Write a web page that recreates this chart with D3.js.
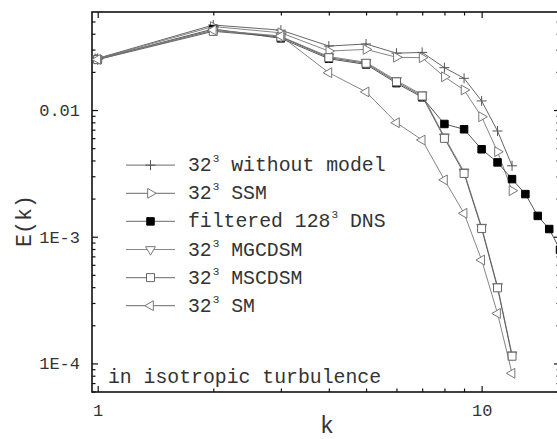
<!DOCTYPE html>
<html>
<head>
<meta charset="utf-8">
<script src="https://cdn.jsdelivr.net/npm/d3@7/dist/d3.min.js"></script>
<style>
  body { margin: 0; background: #fff; }
  text { font-family: "Liberation Mono", "Courier New", monospace; fill: #333; }
</style>
</head>
<body>
<svg id="chart" width="557" height="439"></svg>
<script>
// values
var k32 = [1, 2, 3, 4, 5, 6, 7, 8, 9, 10, 11, 12];
var kDns = [1, 2, 3, 4, 5, 6, 7, 8, 9, 10, 11, 12, 13, 14, 15, 16];

var noModel = [0.0256, 0.0469, 0.0427, 0.0320, 0.0332, 0.0281, 0.0285, 0.0216, 0.0178, 0.0118, 0.00683, 0.00363];
var ssm = [0.0254, 0.0456, 0.0407, 0.0292, 0.0301, 0.0261, 0.0259, 0.0183, 0.0144, 0.00885, 0.00469, 0.00231];
var dns = [0.0252, 0.0436, 0.0368, 0.0254, 0.0229, 0.0163, 0.0126, 0.00776, 0.00705, 0.00490, 0.00386, 0.00285, 0.00217, 0.00146, 0.00115, 0.00079];
var mgcdsm = [0.0253, 0.0425, 0.0380, 0.0264, 0.0238, 0.0171, 0.0132, 0.00615, 0.00325, 0.00119, 0.000405, 0.000117];
var mscdsm = [0.0250, 0.0418, 0.0377, 0.0259, 0.0234, 0.0167, 0.0129, 0.00598, 0.00316, 0.00116, 0.000395, 0.000114];
var sm = [0.0251, 0.0428, 0.0384, 0.0197, 0.0139, 0.00794, 0.0058, 0.00281, 0.00153, 0.000655, 0.000248, 0.0000836];

var legendNames = ["without model", "SSM", "filtered 128", "MGCDSM", "MSCDSM", "SM"];

var xMajor = [1, 10];
var xMinor = [2, 3, 4, 5, 6, 7, 8, 9];
var xLabels = ["1", "10"];
var yMajor = [1e-4, 1e-3, 1e-2];
var yMinor = [6e-5, 7e-5, 8e-5, 9e-5, 2e-4, 3e-4, 4e-4, 5e-4, 6e-4, 7e-4, 8e-4, 9e-4,
              2e-3, 3e-3, 4e-3, 5e-3, 6e-3, 7e-3, 8e-3, 9e-3, 2e-2, 3e-2, 4e-2, 5e-2];
var yLabels = ["1E-4", "1E-3", "0.01"];

var svg = d3.select("#chart");
var pLeft = 92, pRight = 560, pTop = 12, pBottom = 392;

var x = d3.scaleLog().domain([0.9664, 16]).range([pLeft, pRight]);
var y = d3.scaleLog().domain([5.95e-5, 0.0594]).range([pBottom, pTop]);

// frame + ticks (inward)
function tickAxis(axisFn, scale, vals, size, tx, ty, labels) {
  var a = axisFn(scale).tickValues(vals).tickSizeInner(-size).tickSizeOuter(0);
  if (labels) a.tickFormat(function(d, i) { return labels[i]; }).tickPadding(size + 6);
  else a.tickFormat("");
  var g = svg.append("g").attr("transform", "translate(" + tx + "," + ty + ")").call(a);
  g.select(".domain").remove();
  g.selectAll("line").attr("stroke", "#111").attr("stroke-width", 1.2);
  g.selectAll("text").attr("font-size", 17).attr("fill", "#333")
    .style("font-family", "'Liberation Mono', monospace");
  return g;
}

tickAxis(d3.axisBottom, x, xMajor, 6, 0, pBottom, xLabels);
tickAxis(d3.axisBottom, x, xMinor, 3.5, 0, pBottom);
tickAxis(d3.axisTop, x, xMajor, 6, 0, pTop);
tickAxis(d3.axisTop, x, xMinor, 3.5, 0, pTop);
tickAxis(d3.axisLeft, y, yMajor, 6, pLeft, 0, yLabels);
tickAxis(d3.axisLeft, y, yMinor, 3.5, pLeft, 0);
tickAxis(d3.axisRight, y, yMajor, 6, pRight, 0);
tickAxis(d3.axisRight, y, yMinor, 3.5, pRight, 0);

svg.append("rect")
  .attr("x", pLeft).attr("y", pTop)
  .attr("width", pRight - pLeft).attr("height", pBottom - pTop)
  .attr("fill", "none").attr("stroke", "#111").attr("stroke-width", 1.6);

// markers
var plusPath = "M-5,0H5M0,-5V5";
function tri(rot) {
  return { path: d3.symbol().type(d3.symbolTriangle).size(42)(), rot: rot };
}
var series = [
  { ks: k32, vals: noModel, line: "#555", mk: { path: plusPath, rot: 0 }, fill: "none", stroke: "#555" },
  { ks: k32, vals: ssm, line: "#777", mk: tri(90), fill: "#fff", stroke: "#777" },
  { ks: kDns, vals: dns, line: "#444", mk: { path: d3.symbol().type(d3.symbolSquare).size(56)(), rot: 0 }, fill: "#000", stroke: "#000" },
  { ks: k32, vals: mgcdsm, line: "#777", mk: tri(180), fill: "#fff", stroke: "#777" },
  { ks: k32, vals: mscdsm, line: "#555", mk: { path: d3.symbol().type(d3.symbolSquare).size(64)(), rot: 0 }, fill: "#fff", stroke: "#666" },
  { ks: k32, vals: sm, line: "#777", mk: tri(-90), fill: "#fff", stroke: "#777" }
];

var line = d3.line()
  .x(function(d) { return x(d[0]); })
  .y(function(d) { return y(d[1]); });

var plot = svg.append("g");
series.forEach(function(s) {
  var pts = s.vals.map(function(v, i) { return [s.ks[i], v]; });
  plot.append("path").datum(pts)
    .attr("d", line).attr("fill", "none")
    .attr("stroke", s.line).attr("stroke-width", 0.9);
  plot.selectAll(null).data(pts).enter().append("path")
    .attr("d", s.mk.path)
    .attr("transform", function(d) { return "translate(" + x(d[0]) + "," + y(d[1]) + ") rotate(" + s.mk.rot + ")"; })
    .attr("fill", s.fill).attr("stroke", s.stroke).attr("stroke-width", 1);
});

// legend
var leg = svg.append("g");
series.forEach(function(s, i) {
  var ly = 165.2 + i * 28.1;
  leg.append("line").attr("x1", 126).attr("x2", 175).attr("y1", ly).attr("y2", ly)
    .attr("stroke", "#888").attr("stroke-width", 1.2);
  leg.append("path").attr("d", s.mk.path)
    .attr("transform", "translate(150.5," + ly + ") rotate(" + s.mk.rot + ")")
    .attr("fill", s.fill).attr("stroke", s.stroke);
  var t = leg.append("text").attr("x", 188).attr("y", ly + 6).attr("font-size", 19.8);
  if (i == 2) {
    t.append("tspan").text(legendNames[i]);
    t.append("tspan").attr("font-size", 11).attr("dy", -9).attr("dx", 1).text("3");
    t.append("tspan").attr("dy", 9).text(" DNS");
  } else {
    t.append("tspan").text("32");
    t.append("tspan").attr("font-size", 11).attr("dy", -9).attr("dx", 1).text("3");
    t.append("tspan").attr("dy", 9).text(" " + legendNames[i]);
  }
});

svg.append("text").attr("x", 108).attr("y", 383).attr("font-size", 19.8)
  .text("in isotropic turbulence");

// axis titles
svg.append("text").attr("x", 327).attr("y", 433).attr("text-anchor", "middle")
  .attr("font-size", 23).text("k");
svg.append("text").attr("transform", "translate(31,221) rotate(-90)")
  .attr("text-anchor", "middle").attr("font-size", 21.6).text("E(k)");
</script>
</body>
</html>
